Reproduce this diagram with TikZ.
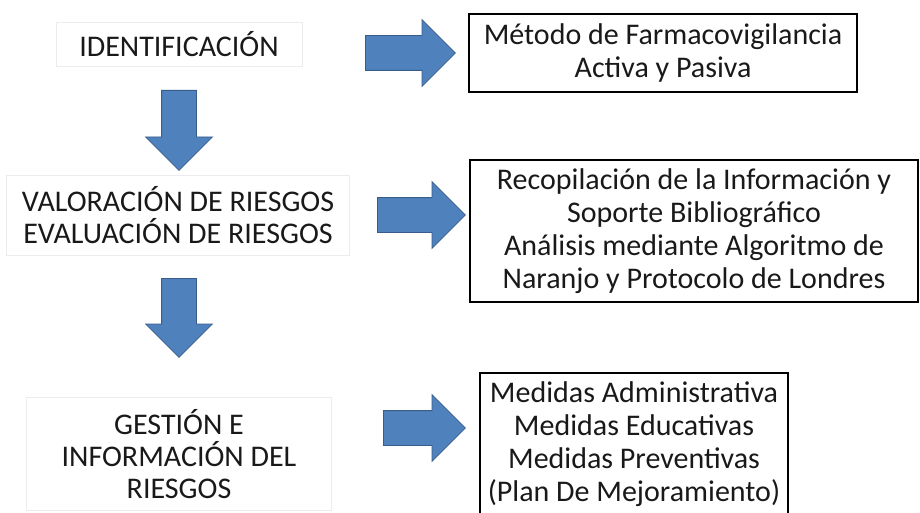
\documentclass[tikz,border=0pt]{standalone}
\usepackage{fontspec}
\setmainfont{Carlito}
\usetikzlibrary{shapes.arrows}
\definecolor{arrowblue}{HTML}{4F81BD}
\definecolor{arrowline}{HTML}{385D8A}
\tikzset{
  leftbox/.style={draw=gray!15, align=center, inner sep=0pt, text=black!90,
    font=\fontsize{30}{32}\selectfont},
  rightbox/.style={draw=black, line width=1.6pt, align=center, inner sep=0pt, text=black!90,
    font=\fontsize{30}{33}\selectfont},
  blockarrow/.style={single arrow, fill=arrowblue, draw=arrowline, line width=0.8pt,
    inner sep=17pt, anchor=tail, single arrow head extend=16pt}
}

\begin{document}
\begin{tikzpicture}[x=1pt,y=-1pt]
      \path[use as bounding box] (0,0) rectangle (920,513);
      \clip (0,0) rectangle (920,513);
      % left column
      \node[leftbox, minimum width=246pt, minimum height=44pt] at (179,44) (ident) {IDENTIFICACIÓN};
      \node[leftbox, minimum width=343pt, minimum height=80pt] at (178,215) (valor) {VALORACIÓN DE RIESGOS\\EVALUACIÓN DE RIESGOS};
      \node[leftbox, minimum width=305pt, minimum height=113pt] at (179,454) (gestion) {GESTIÓN E\\INFORMACIÓN DEL\\RIESGOS};
      % right column
      \node[rightbox, minimum width=388pt, minimum height=78pt] at (663,53) (metodo) {Método de Farmacovigilancia\\Activa y Pasiva};
      \node[rightbox, minimum width=448pt, minimum height=142pt] at (694,231) (recop) {Recopilación de la Información y\\Soporte Bibliográfico\\Análisis mediante Algoritmo de\\Naranjo y Protocolo de Londres};
      \node[rightbox, minimum width=308pt, minimum height=142pt] at (634,444) (medidas) {Medidas Administrativa\\Medidas Educativas\\Medidas Preventivas\\(Plan De Mejoramiento)};
      % block arrows
      \node[blockarrow, minimum height=90pt] at (365,53) (ar1) {};
      \node[blockarrow, minimum height=88pt] at (377,215) (ar2) {};
      \node[blockarrow, minimum height=82pt] at (383,428) (ar3) {};
      \node[blockarrow, shape border rotate=270, minimum height=80pt] at (179,90) (ad1) {};
      \node[blockarrow, shape border rotate=270, minimum height=79pt] at (179,278) (ad2) {};
\end{tikzpicture}
\end{document}
